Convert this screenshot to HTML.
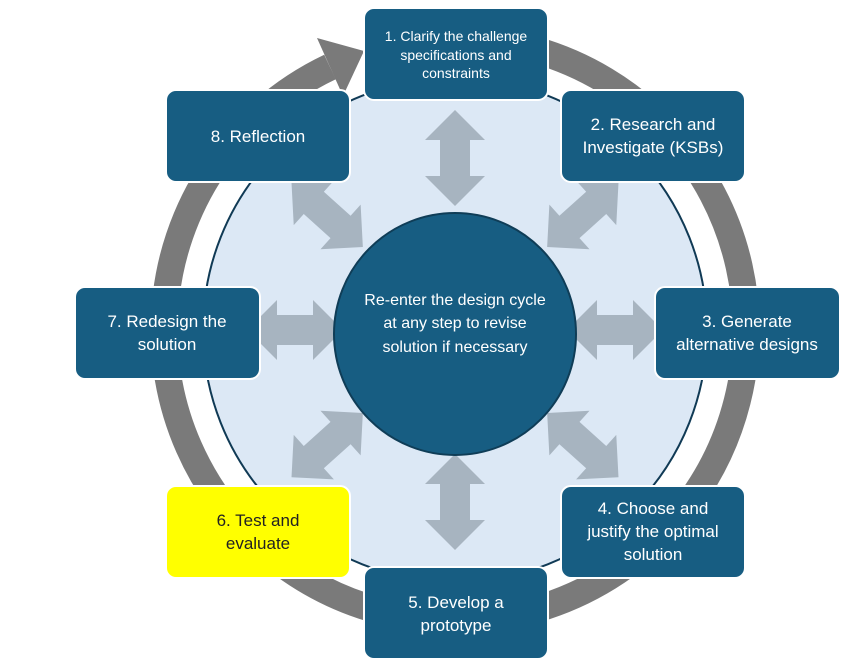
<!DOCTYPE html>
<html><head><meta charset="utf-8"><style>
body{margin:0;background:#fff;width:853px;height:660px;overflow:hidden}
svg{display:block}
text{font-family:"Liberation Sans",sans-serif;fill:#fff;text-anchor:middle}
</style></head><body>
<svg width="853" height="660" viewBox="0 0 853 660">
<defs>
<g id="da"><polygon points="0,-48 30,-18 15,-18 15,18 30,18 0,48 -30,18 -15,18 -15,-18 -30,-18" fill="#a7b4c0"/></g>
</defs>
<!-- gray ring -->
<path d="M 400 44 A 291 291 0 1 1 330 67" fill="none" stroke="#7a7a7a" stroke-width="27"/>
<polygon points="317,38 364,51 343,96" fill="#7a7a7a"/>
<!-- light circle -->
<circle cx="455" cy="330" r="252" fill="#dce8f5" stroke="#103a55" stroke-width="2"/>
<!-- double arrows -->
<g transform="translate(455,330)">
<use href="#da" transform="rotate(0) translate(0,-172)"/>
<use href="#da" transform="rotate(48) translate(0,-172)"/>
<use href="#da" transform="rotate(90) translate(0,-160)"/>
<use href="#da" transform="rotate(132) translate(0,-172)"/>
<use href="#da" transform="rotate(180) translate(0,-172)"/>
<use href="#da" transform="rotate(228) translate(0,-172)"/>
<use href="#da" transform="rotate(270) translate(0,-160)"/>
<use href="#da" transform="rotate(312) translate(0,-172)"/>
</g>
<circle cx="455" cy="334" r="121" fill="#175d82" stroke="#0f3d57" stroke-width="2"/>
<text x="455" y="305" font-size="16">Re-enter the design cycle</text>
<text x="455" y="328" font-size="16">at any step to revise</text>
<text x="455" y="352" font-size="16">solution if necessary</text>
<g stroke="#fff" stroke-width="2" fill="#175d82">
<rect x="364" y="8" width="184" height="92" rx="10"/>
<rect x="561" y="90" width="184" height="92" rx="10"/>
<rect x="655" y="287" width="185" height="92" rx="10"/>
<rect x="561" y="486" width="184" height="92" rx="10"/>
<rect x="364" y="567" width="184" height="92" rx="10"/>
<rect x="166" y="486" width="184" height="92" rx="10" fill="#ffff00"/>
<rect x="75" y="287" width="185" height="92" rx="10"/>
<rect x="166" y="90" width="184" height="92" rx="10"/>
</g>
<text x="456" y="41" font-size="14">1. Clarify the challenge</text>
<text x="456" y="60" font-size="14">specifications and</text>
<text x="456" y="78" font-size="14">constraints</text>
<text x="653" y="130" font-size="17">2. Research and</text>
<text x="653" y="153" font-size="17">Investigate (KSBs)</text>
<text x="747" y="327" font-size="17">3. Generate</text>
<text x="747" y="350" font-size="17">alternative designs</text>
<text x="653" y="514" font-size="17">4. Choose and</text>
<text x="653" y="537" font-size="17">justify the optimal</text>
<text x="653" y="560" font-size="17">solution</text>
<text x="456" y="608" font-size="17">5. Develop a</text>
<text x="456" y="631" font-size="17">prototype</text>
<text x="258" y="526" font-size="17" style="fill:#222">6. Test and</text>
<text x="258" y="549" font-size="17" style="fill:#222">evaluate</text>
<text x="167" y="327" font-size="17">7. Redesign the</text>
<text x="167" y="350" font-size="17">solution</text>
<text x="258" y="142" font-size="17">8. Reflection</text>
</svg>
</body></html>
